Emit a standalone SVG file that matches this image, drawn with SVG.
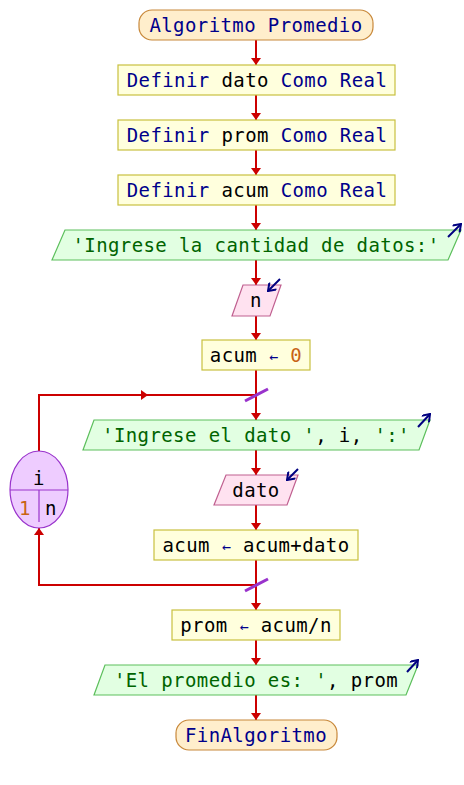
<svg xmlns="http://www.w3.org/2000/svg" width="464" height="785" viewBox="0 0 464 785">
<defs>
<style>
text{font-family:"DejaVu Sans Mono","Liberation Mono",monospace;font-size:19px;letter-spacing:0.4px;text-anchor:middle;fill:#000}
.kw{fill:#00008b}
.str{fill:#006400}
.num{fill:#c86414}
.op{fill:#00008b;font-size:15px}
.term{fill:#ffeecc;stroke:#c8883a;stroke-width:1.2}
.proc{fill:#ffffdd;stroke:#c8c040;stroke-width:1.2}
.out{fill:#e2ffe2;stroke:#5cbf5c;stroke-width:1.2}
.in{fill:#ffe2f0;stroke:#c06090;stroke-width:1.2}
.loop{fill:#eeccff;stroke:#9933cc;stroke-width:1.2}
.con{fill:none;stroke:#cc0000;stroke-width:2}
.io{fill:none;stroke:#000080;stroke-width:2}
.slash{stroke:#9933cc;stroke-width:3}
</style>
<marker id="ah" viewBox="0 0 7 10" refX="7" refY="5" markerWidth="7" markerHeight="10" markerUnits="userSpaceOnUse" orient="auto">
<path d="M0,0 L7,5 L0,10 z" fill="#cc0000"/>
</marker>
<marker id="ioh" viewBox="0 0 10 10" refX="9" refY="5" markerWidth="10" markerHeight="10" markerUnits="userSpaceOnUse" orient="auto">
<path d="M2,0 L9,5 L2,10" fill="none" stroke="#000080" stroke-width="2"/>
</marker>
</defs>
<g id="connectors">
<path class="con" d="M256,40 V65" marker-end="url(#ah)"/>
<path class="con" d="M256,95 V120" marker-end="url(#ah)"/>
<path class="con" d="M256,150 V175" marker-end="url(#ah)"/>
<path class="con" d="M256,205 V230" marker-end="url(#ah)"/>
<path class="con" d="M256,260 V285" marker-end="url(#ah)"/>
<path class="con" d="M256,316 V340" marker-end="url(#ah)"/>
<path class="con" d="M256,370 V420" marker-end="url(#ah)"/>
<path class="con" d="M256,450 V475" marker-end="url(#ah)"/>
<path class="con" d="M256,505 V530" marker-end="url(#ah)"/>
<path class="con" d="M256,560 V610" marker-end="url(#ah)"/>
<path class="con" d="M256,640 V665" marker-end="url(#ah)"/>
<path class="con" d="M256,695 V720" marker-end="url(#ah)"/>
<path class="con" d="M39,451 V395 H148" marker-end="url(#ah)"/>
<path class="con" d="M146,395 H256"/>
<path class="con" d="M256,585 H39 V528" marker-end="url(#ah)"/>
<line class="slash" x1="245" y1="401" x2="268" y2="389"/>
<line class="slash" x1="245" y1="591" x2="268" y2="579"/>
</g>
<g id="start">
<rect class="term" x="139" y="10" width="234" height="30" rx="13"/>
<text x="256" y="32" class="kw">Algoritmo Promedio</text>
</g>
<g id="def-dato">
<rect class="proc" x="118" y="65" width="277" height="30"/>
<text x="257" y="87"><tspan class="kw">Definir</tspan> dato <tspan class="kw">Como Real</tspan></text>
</g>
<g id="def-prom">
<rect class="proc" x="118" y="120" width="277" height="30"/>
<text x="257" y="142"><tspan class="kw">Definir</tspan> prom <tspan class="kw">Como Real</tspan></text>
</g>
<g id="def-acum">
<rect class="proc" x="118" y="175" width="277" height="30"/>
<text x="257" y="197"><tspan class="kw">Definir</tspan> acum <tspan class="kw">Como Real</tspan></text>
</g>
<g id="out-cantidad">
<polygon class="out" points="65,230 461,230 448,260 52,260"/>
<text x="256" y="252" class="str">'Ingrese la cantidad de datos:'</text>
<path class="io" d="M448,237 L461,224" marker-end="url(#ioh)"/>
</g>
<g id="in-n">
<polygon class="in" points="243,285 281,285 270,316 232,316"/>
<text x="256" y="307">n</text>
<path class="io" d="M280,279 L268,291" marker-end="url(#ioh)"/>
</g>
<g id="acum-0">
<rect class="proc" x="202" y="340" width="108" height="30"/>
<text x="256" y="362">acum <tspan class="op">←</tspan> <tspan class="num">0</tspan></text>
</g>
<g id="for-loop">
<ellipse class="loop" cx="39" cy="489.5" rx="29" ry="38.5"/>
<line x1="10" y1="490" x2="68" y2="490" stroke="#9933cc" stroke-width="1.2"/>
<line x1="39" y1="490" x2="39" y2="522" stroke="#9933cc" stroke-width="1.2"/>
<text x="39" y="485">i</text>
<text x="25" y="515" class="num">1</text>
<text x="51" y="515">n</text>
</g>
<g id="out-dato">
<polygon class="out" points="94,420 430,420 419,450 83,450"/>
<text x="256" y="442"><tspan class="str">'Ingrese el dato '</tspan>, i, <tspan class="str">':'</tspan></text>
<path class="io" d="M418,427 L430,414" marker-end="url(#ioh)"/>
</g>
<g id="in-dato">
<polygon class="in" points="226,475 298,475 287,505 214,505"/>
<text x="256" y="497">dato</text>
<path class="io" d="M298,469 L287,480" marker-end="url(#ioh)"/>
</g>
<g id="acum-sum">
<rect class="proc" x="154" y="530" width="204" height="30"/>
<text x="256" y="552">acum <tspan class="op">←</tspan> acum+dato</text>
</g>
<g id="prom-calc">
<rect class="proc" x="172" y="610" width="168" height="30"/>
<text x="256" y="632">prom <tspan class="op">←</tspan> acum/n</text>
</g>
<g id="out-prom">
<polygon class="out" points="105,665 418,665 406,695 94,695"/>
<text x="256" y="687"><tspan class="str">'El promedio es: '</tspan>, prom</text>
<path class="io" d="M407,672 L418,660" marker-end="url(#ioh)"/>
</g>
<g id="end">
<rect class="term" x="176" y="720" width="161" height="30" rx="13"/>
<text x="256" y="742" class="kw">FinAlgoritmo</text>
</g>
</svg>
